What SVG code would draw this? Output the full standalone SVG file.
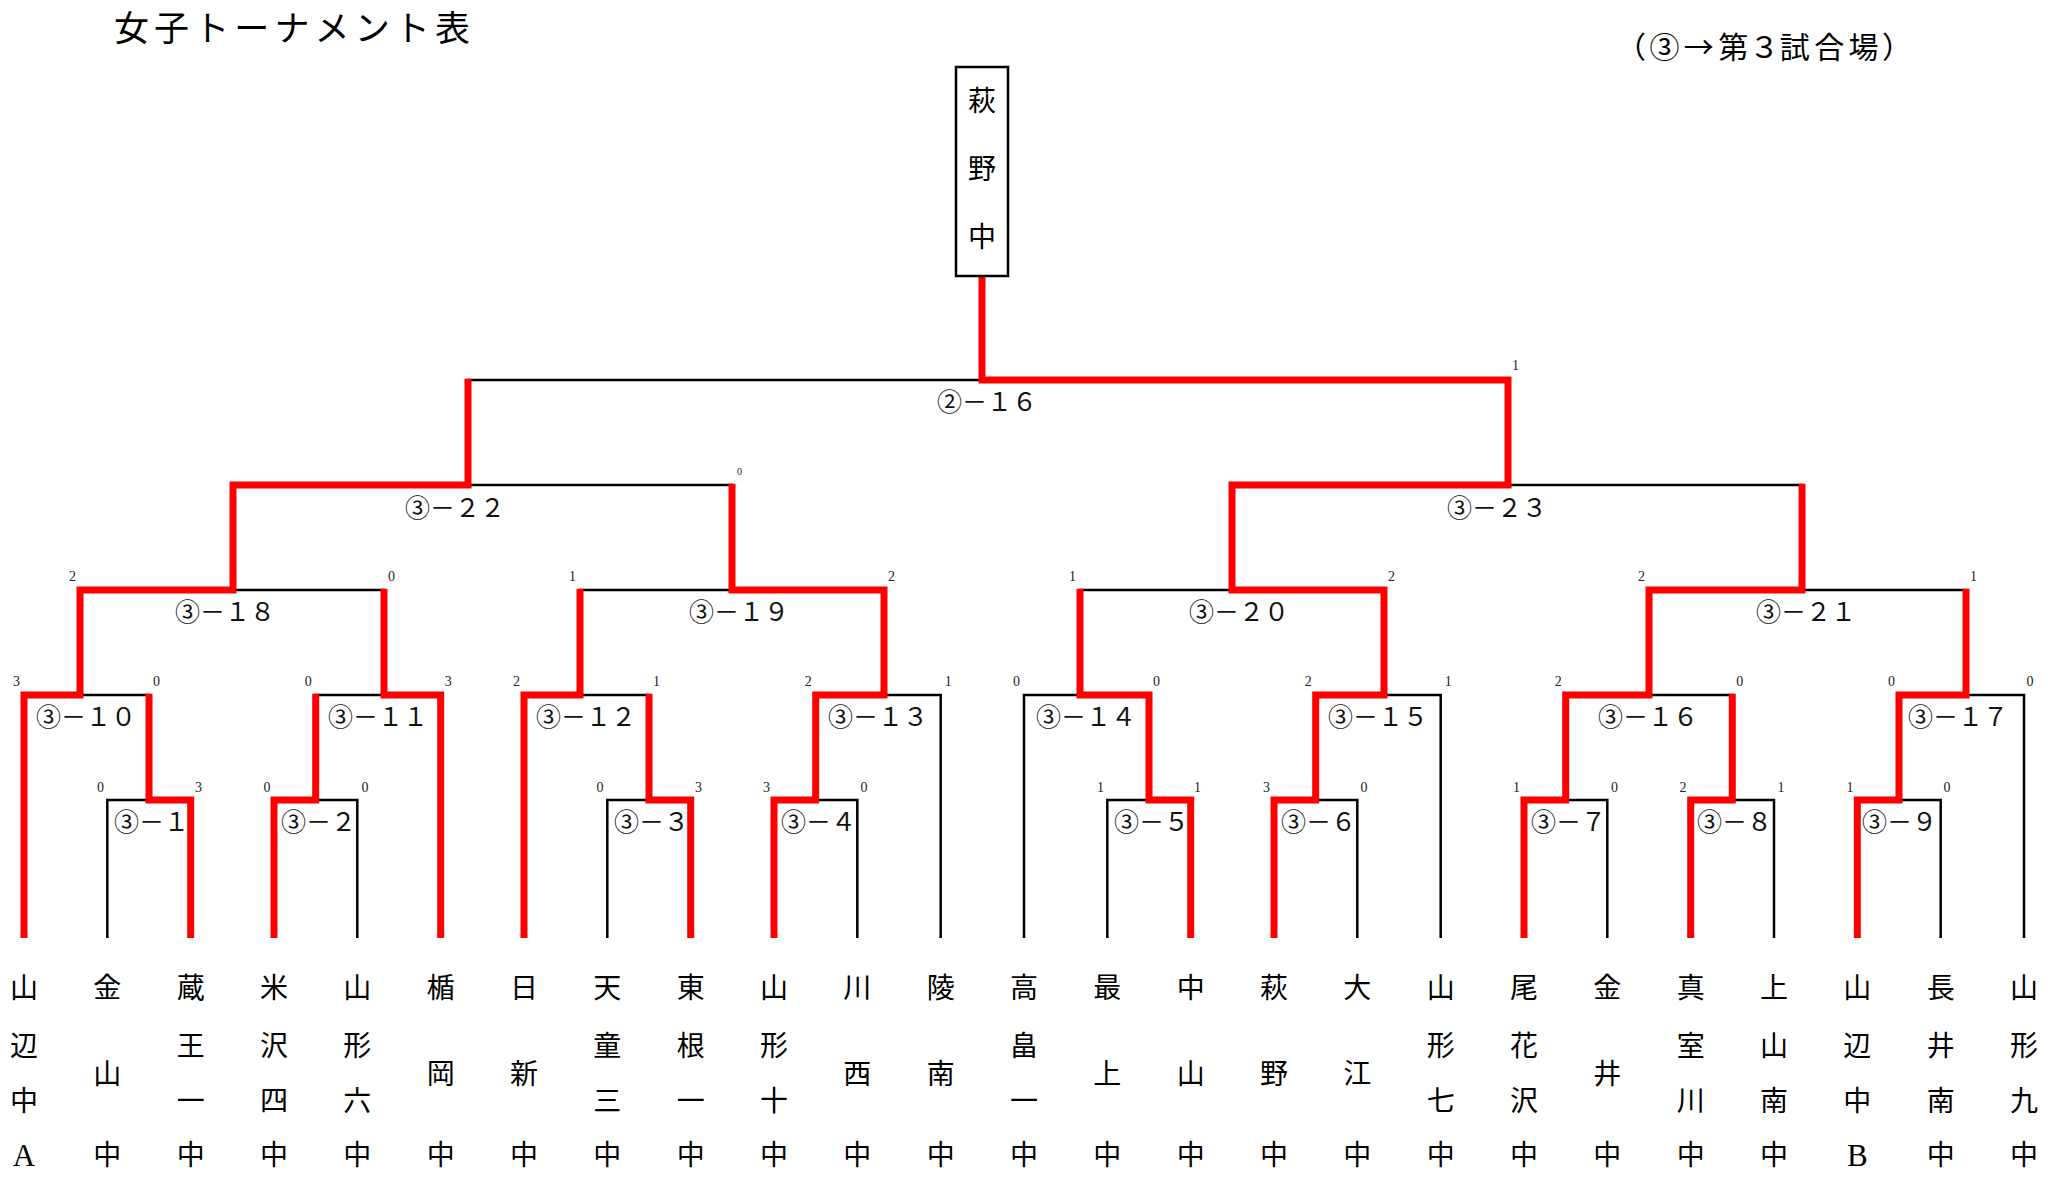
<svg xmlns="http://www.w3.org/2000/svg" width="2048" height="1177" viewBox="0 0 2048 1177">
<style>
.blk{fill:none;stroke:#000;stroke-width:2.5;stroke-linejoin:miter;stroke-linecap:butt}
.red{fill:none;stroke:#ff0000;stroke-width:7;stroke-linejoin:miter;stroke-linecap:butt}
.nm{font-family:"Noto Sans CJK JP","Noto Sans CJK SC",sans-serif;font-size:28px;text-anchor:middle;fill:#000}
.lat{font-family:"Liberation Serif",serif;font-size:31px;text-anchor:middle;fill:#000}
.lb{font-family:"Noto Sans CJK JP","Noto Sans CJK SC",sans-serif;font-size:25px;fill:#111}
.sc{font-family:"Liberation Serif",serif;font-size:14px;text-anchor:middle;fill:#222}
.ttl{font-family:"Noto Sans CJK JP","Noto Sans CJK SC",sans-serif;fill:#000}
</style>
<rect x="0" y="0" width="2048" height="1177" fill="#fff"/>

<g id="title">
<text class="ttl" x="114" y="41" font-size="35" textLength="356" lengthAdjust="spacing">女子トーナメント表</text>
</g>
<g id="legend">
<text class="ttl" x="1630" y="58" font-size="30" style="font-feature-settings:'palt'" textLength="268" lengthAdjust="spacing">（③→第３試合場）</text>
</g>

<g id="connectors">
<g id="skeleton">
<path class="blk" d="M107.3,938V800H190.7V938"/>
<path class="blk" d="M274,938V800H357.3V938"/>
<path class="blk" d="M607.3,938V800H690.7V938"/>
<path class="blk" d="M774,938V800H857.3V938"/>
<path class="blk" d="M1107.3,938V800H1190.7V938"/>
<path class="blk" d="M1274,938V800H1357.3V938"/>
<path class="blk" d="M1524,938V800H1607.3V938"/>
<path class="blk" d="M1690.7,938V800H1774V938"/>
<path class="blk" d="M1857.3,938V800H1940.7V938"/>
<path class="blk" d="M24,938V695H149V800"/>
<path class="blk" d="M315.7,800V695H440.7V938"/>
<path class="blk" d="M524,938V695H649V800"/>
<path class="blk" d="M815.7,800V695H940.7V938"/>
<path class="blk" d="M1024,938V695H1149V800"/>
<path class="blk" d="M1315.7,800V695H1440.7V938"/>
<path class="blk" d="M1565.7,800V695H1732.3V800"/>
<path class="blk" d="M1899,800V695H2024V938"/>
<path class="blk" d="M80,695V590H384V695"/>
<path class="blk" d="M580,695V590H884V695"/>
<path class="blk" d="M1080,695V590H1384V695"/>
<path class="blk" d="M1649,695V590H1966V695"/>
<path class="blk" d="M233,590V485H732V590"/>
<path class="blk" d="M1232,590V485H1802V590"/>
<path class="blk" d="M468,485V380H1508V485"/>
<path class="blk" d="M982,380V276"/>
</g>
<g id="winners">
<path class="red" d="M24,938V695H80V590H233V485H468V378.7"/>
<path class="red" d="M190.7,938V800H149V693.7"/>
<path class="red" d="M274,938V800H315.7V693.7"/>
<path class="red" d="M440.7,938V695H384V588.7"/>
<path class="red" d="M524,938V695H580V588.7"/>
<path class="red" d="M690.7,938V800H649V693.7"/>
<path class="red" d="M774,938V800H815.7V695H884V590H732V483.7"/>
<path class="red" d="M1190.7,938V800H1149V695H1080V588.7"/>
<path class="red" d="M1274,938V800H1315.7V695H1384V590H1232V485H1508V380H982V276"/>
<path class="red" d="M1524,938V800H1565.7V695H1649V590H1802V483.7"/>
<path class="red" d="M1690.7,938V800H1732.3V693.7"/>
<path class="red" d="M1857.3,938V800H1899V695H1966V588.7"/>
</g>
</g>

<g id="champion">
<rect x="956" y="67" width="52" height="209" fill="#fff" stroke="#000" stroke-width="2.5"/>
<text class="nm" font-size="26" x="982"><tspan x="982" y="111">萩</tspan><tspan x="982" y="179">野</tspan><tspan x="982" y="247">中</tspan></text>
</g>

<g id="matches">
<g id="m2-16"><text class="lb" x="937" y="411">②－１６</text><text class="sc" x="1515.5" y="370">1</text></g>
<g id="m3-22"><text class="lb" x="405" y="517">③－２２</text><text class="sc" style="font-size:10px" x="739.5" y="475">0</text></g>
<g id="m3-23"><text class="lb" x="1447" y="517">③－２３</text></g>
<g id="m3-18"><text class="lb" x="175" y="621">③－１８</text><text class="sc" x="72.5" y="581">2</text><text class="sc" x="391.5" y="581">0</text></g>
<g id="m3-19"><text class="lb" x="689" y="621">③－１９</text><text class="sc" x="572.5" y="581">1</text><text class="sc" x="891.5" y="581">2</text></g>
<g id="m3-20"><text class="lb" x="1189" y="621">③－２０</text><text class="sc" x="1072.5" y="581">1</text><text class="sc" x="1391.5" y="581">2</text></g>
<g id="m3-21"><text class="lb" x="1756" y="621">③－２１</text><text class="sc" x="1641.5" y="581">2</text><text class="sc" x="1973.5" y="581">1</text></g>
<g id="m3-10"><text class="lb" x="36" y="726">③－１０</text><text class="sc" x="16.5" y="686">3</text><text class="sc" x="156.5" y="686">0</text></g>
<g id="m3-11"><text class="lb" x="328" y="726">③－１１</text><text class="sc" x="308.2" y="686">0</text><text class="sc" x="448.2" y="686">3</text></g>
<g id="m3-12"><text class="lb" x="536" y="726">③－１２</text><text class="sc" x="516.5" y="686">2</text><text class="sc" x="656.5" y="686">1</text></g>
<g id="m3-13"><text class="lb" x="828" y="726">③－１３</text><text class="sc" x="808.2" y="686">2</text><text class="sc" x="948.2" y="686">1</text></g>
<g id="m3-14"><text class="lb" x="1036" y="726">③－１４</text><text class="sc" x="1016.5" y="686">0</text><text class="sc" x="1156.5" y="686">0</text></g>
<g id="m3-15"><text class="lb" x="1328" y="726">③－１５</text><text class="sc" x="1308.2" y="686">2</text><text class="sc" x="1448.2" y="686">1</text></g>
<g id="m3-16"><text class="lb" x="1598" y="726">③－１６</text><text class="sc" x="1558.2" y="686">2</text><text class="sc" x="1739.8" y="686">0</text></g>
<g id="m3-17"><text class="lb" x="1908" y="726">③－１７</text><text class="sc" x="1891.5" y="686">0</text><text class="sc" x="2030" y="686">0</text></g>
<g id="m3-1"><text class="lb" x="114" y="831">③－１</text><text class="sc" x="100.5" y="792">0</text><text class="sc" x="198.5" y="792">3</text></g>
<g id="m3-2"><text class="lb" x="281" y="831">③－２</text><text class="sc" x="267" y="792">0</text><text class="sc" x="365" y="792">0</text></g>
<g id="m3-3"><text class="lb" x="614" y="831">③－３</text><text class="sc" x="600" y="792">0</text><text class="sc" x="698.5" y="792">3</text></g>
<g id="m3-4"><text class="lb" x="781" y="831">③－４</text><text class="sc" x="766.5" y="792">3</text><text class="sc" x="864" y="792">0</text></g>
<g id="m3-5"><text class="lb" x="1114" y="831">③－５</text><text class="sc" x="1100.5" y="792">1</text><text class="sc" x="1197.5" y="792">1</text></g>
<g id="m3-6"><text class="lb" x="1281" y="831">③－６</text><text class="sc" x="1266.5" y="792">3</text><text class="sc" x="1364" y="792">0</text></g>
<g id="m3-7"><text class="lb" x="1531" y="831">③－７</text><text class="sc" x="1516.5" y="792">1</text><text class="sc" x="1614.5" y="792">0</text></g>
<g id="m3-8"><text class="lb" x="1697" y="831">③－８</text><text class="sc" x="1683" y="792">2</text><text class="sc" x="1781" y="792">1</text></g>
<g id="m3-9"><text class="lb" x="1862" y="831">③－９</text><text class="sc" x="1850" y="792">1</text><text class="sc" x="1947" y="792">0</text></g>
</g>

<g id="teams">
<g id="t0"><text class="nm"><tspan x="24" y="998">山</tspan><tspan x="24" y="1056">辺</tspan><tspan x="24" y="1111">中</tspan></text><text class="lat" x="24" y="1166">A</text></g>
<g id="t1"><text class="nm"><tspan x="107.3" y="998">金</tspan><tspan x="107.3" y="1084">山</tspan><tspan x="107.3" y="1165">中</tspan></text></g>
<g id="t2"><text class="nm"><tspan x="190.7" y="998">蔵</tspan><tspan x="190.7" y="1056">王</tspan><tspan x="190.7" y="1111">一</tspan><tspan x="190.7" y="1165">中</tspan></text></g>
<g id="t3"><text class="nm"><tspan x="274" y="998">米</tspan><tspan x="274" y="1056">沢</tspan><tspan x="274" y="1111">四</tspan><tspan x="274" y="1165">中</tspan></text></g>
<g id="t4"><text class="nm"><tspan x="357.3" y="998">山</tspan><tspan x="357.3" y="1056">形</tspan><tspan x="357.3" y="1111">六</tspan><tspan x="357.3" y="1165">中</tspan></text></g>
<g id="t5"><text class="nm"><tspan x="440.7" y="998">楯</tspan><tspan x="440.7" y="1084">岡</tspan><tspan x="440.7" y="1165">中</tspan></text></g>
<g id="t6"><text class="nm"><tspan x="524" y="998">日</tspan><tspan x="524" y="1084">新</tspan><tspan x="524" y="1165">中</tspan></text></g>
<g id="t7"><text class="nm"><tspan x="607.3" y="998">天</tspan><tspan x="607.3" y="1056">童</tspan><tspan x="607.3" y="1111">三</tspan><tspan x="607.3" y="1165">中</tspan></text></g>
<g id="t8"><text class="nm"><tspan x="690.7" y="998">東</tspan><tspan x="690.7" y="1056">根</tspan><tspan x="690.7" y="1111">一</tspan><tspan x="690.7" y="1165">中</tspan></text></g>
<g id="t9"><text class="nm"><tspan x="774" y="998">山</tspan><tspan x="774" y="1056">形</tspan><tspan x="774" y="1111">十</tspan><tspan x="774" y="1165">中</tspan></text></g>
<g id="t10"><text class="nm"><tspan x="857.3" y="998">川</tspan><tspan x="857.3" y="1084">西</tspan><tspan x="857.3" y="1165">中</tspan></text></g>
<g id="t11"><text class="nm"><tspan x="940.7" y="998">陵</tspan><tspan x="940.7" y="1084">南</tspan><tspan x="940.7" y="1165">中</tspan></text></g>
<g id="t12"><text class="nm"><tspan x="1024" y="998">高</tspan><tspan x="1024" y="1056">畠</tspan><tspan x="1024" y="1111">一</tspan><tspan x="1024" y="1165">中</tspan></text></g>
<g id="t13"><text class="nm"><tspan x="1107.3" y="998">最</tspan><tspan x="1107.3" y="1084">上</tspan><tspan x="1107.3" y="1165">中</tspan></text></g>
<g id="t14"><text class="nm"><tspan x="1190.7" y="998">中</tspan><tspan x="1190.7" y="1084">山</tspan><tspan x="1190.7" y="1165">中</tspan></text></g>
<g id="t15"><text class="nm"><tspan x="1274" y="998">萩</tspan><tspan x="1274" y="1084">野</tspan><tspan x="1274" y="1165">中</tspan></text></g>
<g id="t16"><text class="nm"><tspan x="1357.3" y="998">大</tspan><tspan x="1357.3" y="1084">江</tspan><tspan x="1357.3" y="1165">中</tspan></text></g>
<g id="t17"><text class="nm"><tspan x="1440.7" y="998">山</tspan><tspan x="1440.7" y="1056">形</tspan><tspan x="1440.7" y="1111">七</tspan><tspan x="1440.7" y="1165">中</tspan></text></g>
<g id="t18"><text class="nm"><tspan x="1524" y="998">尾</tspan><tspan x="1524" y="1056">花</tspan><tspan x="1524" y="1111">沢</tspan><tspan x="1524" y="1165">中</tspan></text></g>
<g id="t19"><text class="nm"><tspan x="1607.3" y="998">金</tspan><tspan x="1607.3" y="1084">井</tspan><tspan x="1607.3" y="1165">中</tspan></text></g>
<g id="t20"><text class="nm"><tspan x="1690.7" y="998">真</tspan><tspan x="1690.7" y="1056">室</tspan><tspan x="1690.7" y="1111">川</tspan><tspan x="1690.7" y="1165">中</tspan></text></g>
<g id="t21"><text class="nm"><tspan x="1774" y="998">上</tspan><tspan x="1774" y="1056">山</tspan><tspan x="1774" y="1111">南</tspan><tspan x="1774" y="1165">中</tspan></text></g>
<g id="t22"><text class="nm"><tspan x="1857.3" y="998">山</tspan><tspan x="1857.3" y="1056">辺</tspan><tspan x="1857.3" y="1111">中</tspan></text><text class="lat" x="1857.3" y="1166">B</text></g>
<g id="t23"><text class="nm"><tspan x="1940.7" y="998">長</tspan><tspan x="1940.7" y="1056">井</tspan><tspan x="1940.7" y="1111">南</tspan><tspan x="1940.7" y="1165">中</tspan></text></g>
<g id="t24"><text class="nm"><tspan x="2024" y="998">山</tspan><tspan x="2024" y="1056">形</tspan><tspan x="2024" y="1111">九</tspan><tspan x="2024" y="1165">中</tspan></text></g>
</g>
</svg>
